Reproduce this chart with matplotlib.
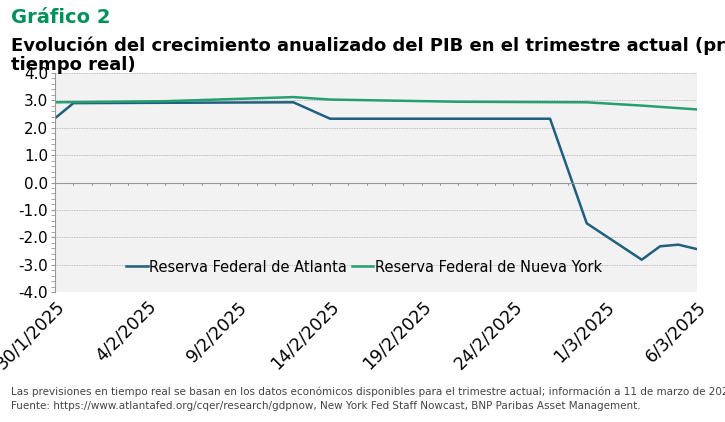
import matplotlib.pyplot as plt
import numpy as np
import datetime as dt

start = dt.date(2025, 1, 30)
atl_days = [0, 1, 13, 15, 27, 29, 32, 33, 34, 35]
atl_vals = [2.35, 2.9, 2.93, 2.33, 2.33, -1.49, -2.82, -2.33, -2.27, -2.43]
ny_days = [0, 6, 13, 15, 22, 29, 32, 35]
ny_vals = [2.93, 2.97, 3.12, 3.03, 2.95, 2.93, 2.81, 2.67]
tick_days = [0, 5, 10, 15, 20, 25, 30, 35]

def to_dates(days):
    return [start + dt.timedelta(days=d) for d in days]

narrow = 'Liberation Sans Narrow'

fig = plt.figure(figsize=(7.25, 4.22), dpi=100)
ax = fig.add_axes([0.076, 0.308, 0.885, 0.519])
ax.set_facecolor('#f2f2f2')
fig.patch.set_facecolor('white')

ax.plot(to_dates(atl_days), atl_vals, color='#1f5f7f', lw=1.8, label='Reserva Federal de Atlanta')
ax.plot(to_dates(ny_days), ny_vals, color='#24a070', lw=1.8, label='Reserva Federal de Nueva York')

ax.set_ylim(-4, 4)
yt = np.arange(-4, 4.1, 1)
ax.set_yticks(yt)
ax.set_yticklabels([f'{v:.1f}' for v in yt], fontsize=11, family=narrow)
ax.set_yticks(np.arange(-4, 4.1, 0.2), minor=True)
ax.grid(axis='y', ls=(0, (1, 1)), color='#aaaaaa', lw=0.6)
ax.set_xlim(start - dt.timedelta(days=0.9), start + dt.timedelta(days=35.4))
ax.set_xticks(to_dates(tick_days))
ax.set_xticklabels([f'{d.day}/{d.month}/{d.year}' for d in to_dates(tick_days)],
                   rotation=45, ha='right', rotation_mode='anchor', fontsize=12.5, family=narrow)
ax.tick_params(axis='x', length=0, pad=4)
ax.tick_params(axis='y', which='both', length=3, color='#999999', pad=2)
for s in ['top', 'right', 'bottom']:
    ax.spines[s].set_visible(False)
ax.spines['left'].set_color('#999999')
ax.axhline(0, color='#999999', lw=0.8)
for d in range(36):
    ax.plot([start + dt.timedelta(days=d)] * 2, [0, -0.1], color='#999999', lw=0.7)

ax.legend(loc='lower left', bbox_to_anchor=(0.09, 0.02), ncol=2, frameon=False,
          prop={'family': narrow, 'size': 10.5}, handlelength=1.5, columnspacing=0.3, handletextpad=0.1)

fig.text(0.015, 0.945, 'Gráfico 2', color='#00915a', fontsize=14, fontweight='bold', family=narrow)
fig.text(0.015, 0.835, 'Evolución del crecimiento anualizado del PIB en el trimestre actual (previsión en\ntiempo real)',
         fontsize=13, fontweight='bold', linespacing=1.05, family=narrow)
fig.text(0.015, 0.065, 'Las previsiones en tiempo real se basan en los datos económicos disponibles para el trimestre actual; información a 11 de marzo de 2025.',
         fontsize=7.5, color='#444444', family=narrow)
fig.text(0.015, 0.03, 'Fuente: https://www.atlantafed.org/cqer/research/gdpnow, New York Fed Staff Nowcast, BNP Paribas Asset Management.',
         fontsize=7.5, color='#444444', family=narrow)

fig.savefig('out.png', dpi=100)
